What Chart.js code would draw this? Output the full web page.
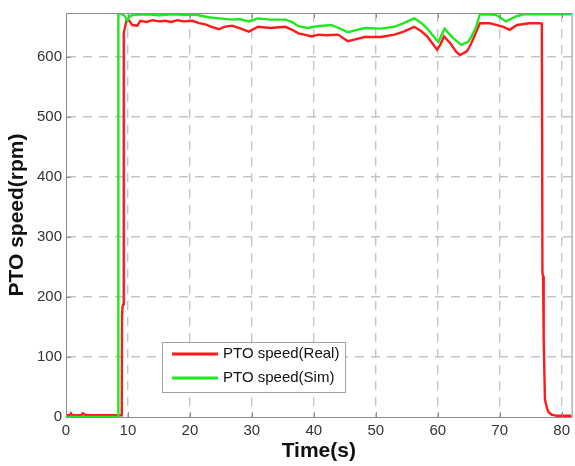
<!DOCTYPE html>
<html>
<head>
<meta charset="utf-8">
<script src="https://cdn.jsdelivr.net/npm/chart.js@4/dist/chart.umd.min.js"></script>
<style>
  html, body { margin: 0; padding: 0; background: #fff; }
  #wrap { width: 575px; height: 466px; position: relative; }
</style>
</head>
<body>
<div id="wrap"><canvas id="pto"></canvas></div>
<script>
const timeReal = [0, 0.6, 0.8, 1.0, 2.5, 2.7, 3.0, 3.5, 9.0, 9.05, 9.1, 9.25, 9.32, 9.8, 10.2, 10.7, 11.5, 12, 13, 14, 15, 16, 17, 18, 19, 20.4, 21.5, 22.5, 23.5, 24.7, 25.5, 26.8, 28, 29.5, 31, 33, 35.4, 36.5, 37.5, 38.5, 39.6, 40.7, 42, 43.9, 45.5, 47, 48.2, 50.8, 53, 54.5, 56.2, 57.3, 58.3, 59.9, 60.4, 61, 62, 63, 63.6, 64.7, 65.3, 65.9, 66.8, 68.4, 70.6, 71.6, 72.8, 74.8, 76.4, 76.8, 76.9, 77.0, 77.1, 77.3, 77.6, 77.9, 78.4, 79.2, 81.6];
const speedReal = [3, 3, 6, 3, 3, 6, 4, 3, 3, 175, 183, 188, 640, 662, 660, 653, 652, 660, 658, 661, 659, 660, 658, 661, 659, 660, 656, 654, 650, 646, 650, 652, 648, 642, 650, 648, 650, 645, 639, 637, 634, 637, 636, 637, 626, 630, 633, 633, 637, 642, 650, 643, 634, 612, 620, 634, 623, 608, 603, 609, 620, 634, 656, 656, 650, 645, 653, 656, 656, 655, 240, 235, 130, 30, 15, 8, 4, 2, 2];

const timeSim = [0, 8.4, 8.45, 9.0, 9.5, 9.9, 10.3, 11, 13, 15, 17, 19, 21, 22, 23, 24.7, 26.8, 28, 29.5, 31, 33, 35.4, 36.5, 37.5, 39, 40.5, 42.8, 44, 45.5, 47, 48.2, 50.8, 53, 54.5, 56.2, 57.3, 58.3, 59.5, 60.1, 61.1, 62.4, 63.8, 64.9, 65.5, 66.2, 66.8, 69.4, 71, 72.8, 74, 81.6];
const speedSim = [0, 0, 674, 671, 668, 660, 668, 670, 671, 669, 671, 670, 670, 668, 666, 664, 662, 663, 659, 664, 662, 662, 658, 651, 648, 651, 653, 648, 641, 645, 648, 647, 650, 656, 664, 657, 647, 632, 625, 647, 632, 620, 625, 635, 650, 671, 670, 659, 668, 671, 671];

const xTicks = [0, 10, 20, 30, 40, 50, 60, 70, 80];
const yTicks = [0, 100, 200, 300, 400, 500, 600];
const seriesNames = ["PTO speed(Real)", "PTO speed(Sim)"];

const FONT = "'Liberation Sans', Arial, sans-serif";
const RED = "#ff1a1a";
const GREEN = "#1ee81e";
const GRID = "#c4c4c4";
const FRAME = "#8c8c8c";

const toPoints = (xs, ys) => xs.map((x, i) => ({ x, y: ys[i] }));

// frame, inner tick marks and the boxed legend inside the plot
const framePlugin = {
  id: "frame",
  afterDatasetsDraw(chart) {
    const { ctx, chartArea: a, scales } = chart;
    ctx.save();
    ctx.strokeStyle = FRAME;
    ctx.lineWidth = 1;
    ctx.strokeRect(a.left + 0.5, a.top + 0.5, a.right - a.left, a.bottom - a.top);
    ctx.beginPath();
    xTicks.forEach((v) => {
      const px = Math.round(scales.x.getPixelForValue(v)) + 0.5;
      ctx.moveTo(px, a.bottom); ctx.lineTo(px, a.bottom - 5);
      ctx.moveTo(px, a.top); ctx.lineTo(px, a.top + 5);
    });
    yTicks.forEach((v) => {
      const py = Math.round(scales.y.getPixelForValue(v)) + 0.5;
      ctx.moveTo(a.left, py); ctx.lineTo(a.left + 5, py);
    });
    ctx.stroke();

    // legend
    const lx = 162, ly = 342, lw = 183, lh = 50;
    ctx.fillStyle = "#fff";
    ctx.fillRect(lx, ly, lw, lh);
    ctx.strokeStyle = "#a0a0a0";
    ctx.strokeRect(lx + 0.5, ly + 0.5, lw, lh);
    const colors = [RED, GREEN];
    ctx.font = "15px " + FONT;
    ctx.textBaseline = "middle";
    seriesNames.forEach((name, i) => {
      const y = ly + 12 + i * 24;
      ctx.strokeStyle = colors[i];
      ctx.lineWidth = 3;
      ctx.beginPath(); ctx.moveTo(172, y); ctx.lineTo(218, y); ctx.stroke();
      ctx.fillStyle = "#111";
      ctx.fillText(name, 223, y);
    });
    ctx.restore();
  },
};

new Chart(document.getElementById("pto"), {
  type: "line",
  data: {
    datasets: [
      { label: seriesNames[0], data: toPoints(timeReal, speedReal), borderColor: RED, borderWidth: 2.4, pointRadius: 0, tension: 0, order: 2 },
      { label: seriesNames[1], data: toPoints(timeSim, speedSim), borderColor: GREEN, borderWidth: 2.4, pointRadius: 0, tension: 0, order: 1 },
    ],
  },
  options: {
    responsive: true,
    maintainAspectRatio: false,
    animation: false,
    layout: { padding: { top: 13, right: 0, left: 0, bottom: 0 } },
    plugins: { legend: { display: false }, tooltip: { enabled: false } },
    scales: {
      x: {
        type: "linear",
        min: 0,
        max: 81.6,
        afterBuildTicks: (s) => { s.ticks = xTicks.map((v) => ({ value: v })); },
        afterFit: (s) => { s.height = 49; },
        ticks: { color: "#333", font: { family: FONT, size: 15 }, padding: 5, maxRotation: 0 },
        grid: { color: (c) => (c.tick && c.tick.value === 0 ? "transparent" : GRID), lineWidth: 1.4, drawTicks: false },
        border: { display: true, color: FRAME, width: 1, dash: [9, 7] },
        title: { display: true, text: "Time(s)", color: "#111", font: { family: FONT, size: 21, weight: "bold" }, padding: { top: 0, bottom: 2 } },
      },
      y: {
        min: 0,
        max: 673,
        afterBuildTicks: (s) => { s.ticks = yTicks.map((v) => ({ value: v })); },
        afterFit: (s) => { s.width = 66; },
        ticks: { color: "#333", font: { family: FONT, size: 15 }, padding: 4 },
        grid: { color: (c) => (c.tick && c.tick.value === 0 ? "transparent" : GRID), lineWidth: 1.4, drawTicks: false },
        border: { display: true, color: FRAME, width: 1, dash: [9, 7] },
        title: { display: true, text: "PTO speed(rpm)", color: "#111", font: { family: FONT, size: 21, weight: "bold" }, padding: { top: 5, bottom: 0 } },
      },
    },
  },
  plugins: [framePlugin],
});
</script>
</body>
</html>
